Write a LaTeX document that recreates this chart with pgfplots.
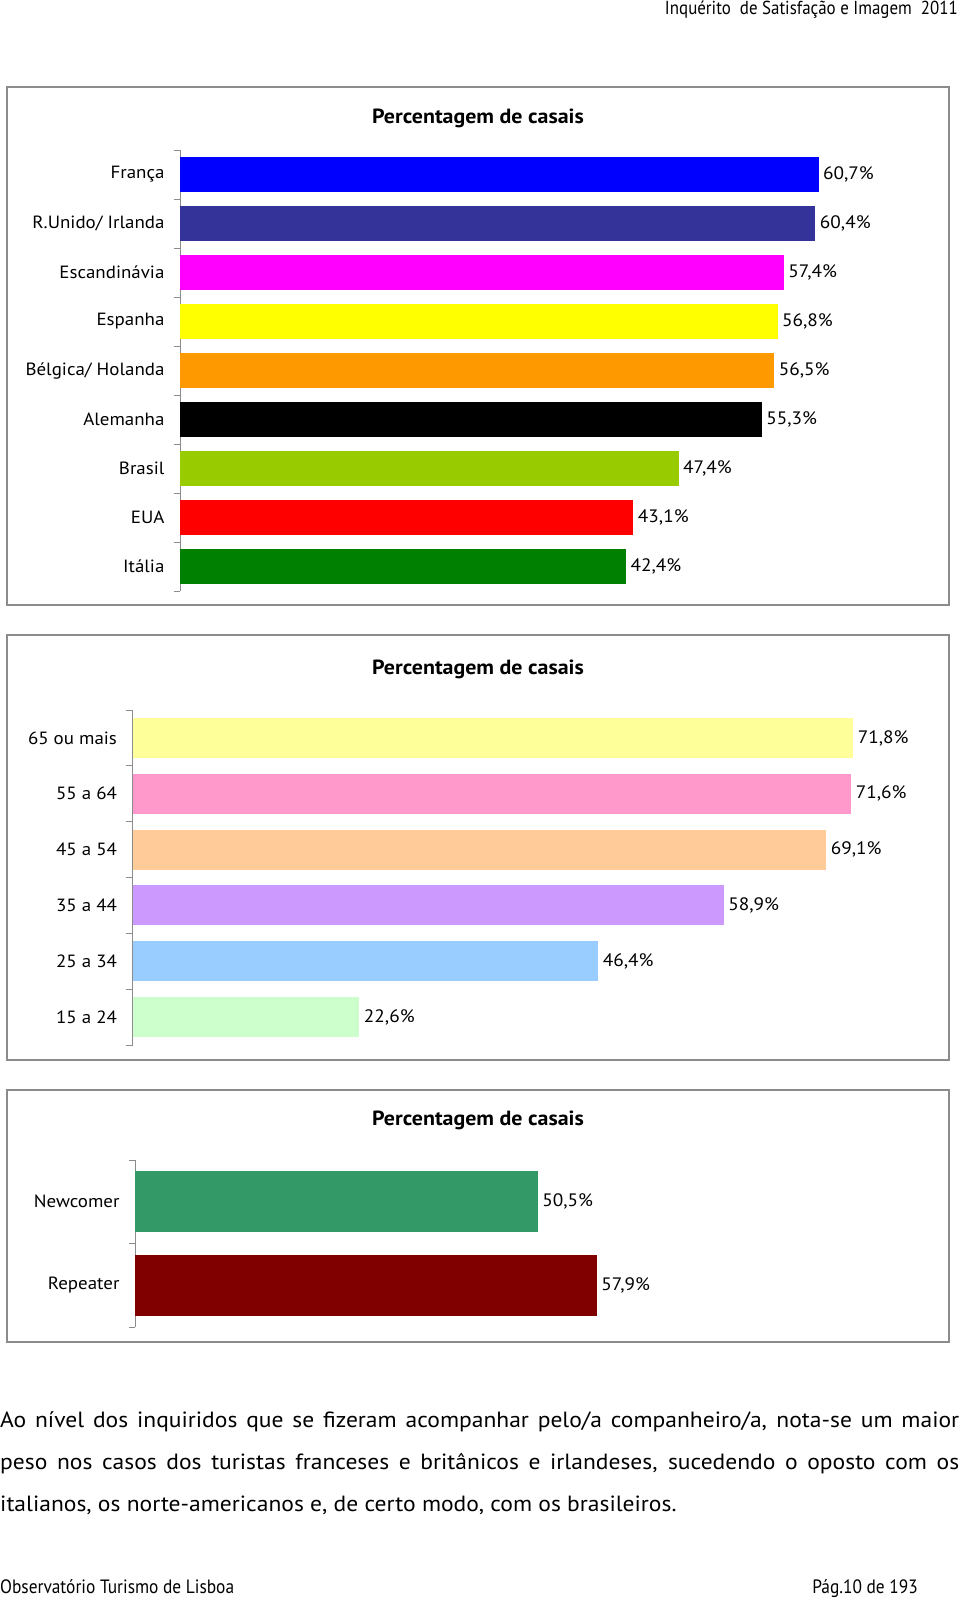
\documentclass[border=0pt]{standalone}
\usepackage{pgfplots}
\pgfplotsset{compat=1.18}
\usepackage{fontspec}
\setmainfont{PT Sans}[FakeStretch=1.07]
\newfontfamily\condfont[FakeStretch=0.9]{PT Sans}
\definecolor{fr}{HTML}{0000FF}
\definecolor{uk}{HTML}{333399}
\definecolor{sc}{HTML}{FF00FF}
\definecolor{es}{HTML}{FFFF00}
\definecolor{be}{HTML}{FF9900}
\definecolor{de}{HTML}{000000}
\definecolor{br}{HTML}{99CC00}
\definecolor{us}{HTML}{FF0000}
\definecolor{it}{HTML}{008000}
\definecolor{a1}{HTML}{FFFF99}
\definecolor{a2}{HTML}{FF99CC}
\definecolor{a3}{HTML}{FFCC99}
\definecolor{a4}{HTML}{CC99FF}
\definecolor{a5}{HTML}{99CCFF}
\definecolor{a6}{HTML}{CCFFCC}
\definecolor{nw}{HTML}{339966}
\definecolor{rp}{HTML}{800000}
\definecolor{frame}{HTML}{8C8C8C}
\pgfplotsset{hb/.style={
  xbar, scale only axis, xmin=0, y dir=reverse,
  axis x line=none, axis y line*=left,
  bar shift=0pt, clip=false,
  point meta=x,
  major tick length=0pt, minor tick length=6pt, tick align=outside,
  y axis line style={frame, line width=0.8pt},
  minor tick style={frame, line width=0.8pt},
  major tick style={draw=none},
  yticklabel style={font=\fontsize{17.7}{21}\selectfont, xshift=-12pt},
  nodes near coords={\pgfmathprintnumber[fixed,fixed zerofill,precision=1,use comma,assume math mode=true]{\pgfplotspointmeta}\%},
  every node near coord/.append style={font=\fontsize{18}{21}\selectfont, text=black, anchor=west, xshift=1pt},
}}
\begin{document}
\begin{tikzpicture}
\path[use as bounding box, fill=white] (0,0) rectangle (960pt,-1600pt);
% header
\node[anchor=base east, inner sep=0pt, font=\condfont\fontsize{18.8}{22}\selectfont] at (958pt,-15pt) {Inquérito\ \ de Satisfação e Imagem\ \ 2011};
% frames
\draw[frame, line width=1.2pt] (7pt,-87pt) rectangle (949pt,-605pt);
\draw[frame, line width=1.2pt] (7pt,-635pt) rectangle (949pt,-1060pt);
\draw[frame, line width=1.2pt] (7pt,-1090pt) rectangle (949pt,-1342pt);
% titles
\node[font=\bfseries\fontsize{20.5}{24}\selectfont] at (478pt,-118pt) {Percentagem de casais};
\node[font=\bfseries\fontsize{20.5}{24}\selectfont] at (478pt,-669pt) {Percentagem de casais};
\node[font=\bfseries\fontsize{20.5}{24}\selectfont] at (478pt,-1120pt) {Percentagem de casais};
% chart 1
\begin{axis}[hb, at={(180pt,-150pt)}, anchor=north west,
  width=736.4pt, height=441pt, xmax=70, ymin=-0.5, ymax=8.5,
  bar width=35pt,
  ytick={0,...,8}, minor ytick={-0.5,0.5,...,8.5},
  yticklabels={França,R.Unido/ Irlanda,Escandinávia,Espanha,Bélgica/ Holanda,Alemanha,Brasil,EUA,Itália}]
\addplot[fill=fr, draw=none] coordinates {(60.7,0)};
\addplot[fill=uk, draw=none] coordinates {(60.4,1)};
\addplot[fill=sc, draw=none] coordinates {(57.4,2)};
\addplot[fill=es, draw=none] coordinates {(56.8,3)};
\addplot[fill=be, draw=none] coordinates {(56.5,4)};
\addplot[fill=de, draw=none] coordinates {(55.3,5)};
\addplot[fill=br, draw=none] coordinates {(47.4,6)};
\addplot[fill=us, draw=none] coordinates {(43.1,7)};
\addplot[fill=it, draw=none] coordinates {(42.4,8)};
\end{axis}
% chart 2
\begin{axis}[hb, at={(132.5pt,-710pt)}, anchor=north west,
  width=753pt, height=335pt, xmax=75, ymin=-0.5, ymax=5.5,
  bar width=40pt,
  ytick={0,...,5}, minor ytick={-0.5,0.5,...,5.5},
  yticklabels={65 ou mais,55 a 64,45 a 54,35 a 44,25 a 34,15 a 24}]
\addplot[fill=a1, draw=none] coordinates {(71.8,0)};
\addplot[fill=a2, draw=none] coordinates {(71.6,1)};
\addplot[fill=a3, draw=none] coordinates {(69.1,2)};
\addplot[fill=a4, draw=none] coordinates {(58.9,3)};
\addplot[fill=a5, draw=none] coordinates {(46.4,4)};
\addplot[fill=a6, draw=none] coordinates {(22.6,5)};
\end{axis}
% chart 3
\begin{axis}[hb, at={(135pt,-1160pt)}, anchor=north west,
  width=718pt, height=167pt, xmax=90, ymin=-0.5, ymax=1.5,
  bar width=61pt,
  ytick={0,1}, minor ytick={-0.5,0.5,1.5},
  yticklabels={Newcomer,Repeater}]
\addplot[fill=nw, draw=none] coordinates {(50.5,0)};
\addplot[fill=rp, draw=none] coordinates {(57.9,1)};
\end{axis}
% paragraph
\begin{scope}[every node/.style={anchor=base west, inner sep=0pt, font=\fontsize{22}{26}\selectfont}]
\node at (0pt,-1427pt) {\makebox[959pt][s]{Ao nível dos inquiridos que se fizeram acompanhar pelo/a companheiro/a, nota-se um maior}};
\node at (0pt,-1469pt) {\makebox[959pt][s]{peso nos casos dos turistas franceses e britânicos e irlandeses, sucedendo o oposto com os}};
\node at (0pt,-1511pt) {italianos, os norte-americanos e, de certo modo, com os brasileiros.};
\end{scope}
% footer
\node[anchor=base west, inner sep=0pt, font=\condfont\fontsize{19.3}{22}\selectfont] at (0pt,-1593pt) {Observatório Turismo de Lisboa};
\node[anchor=base east, inner sep=0pt, font=\condfont\fontsize{19.3}{22}\selectfont] at (918pt,-1593pt) {Pág.10 de 193};
\end{tikzpicture}
\end{document}
